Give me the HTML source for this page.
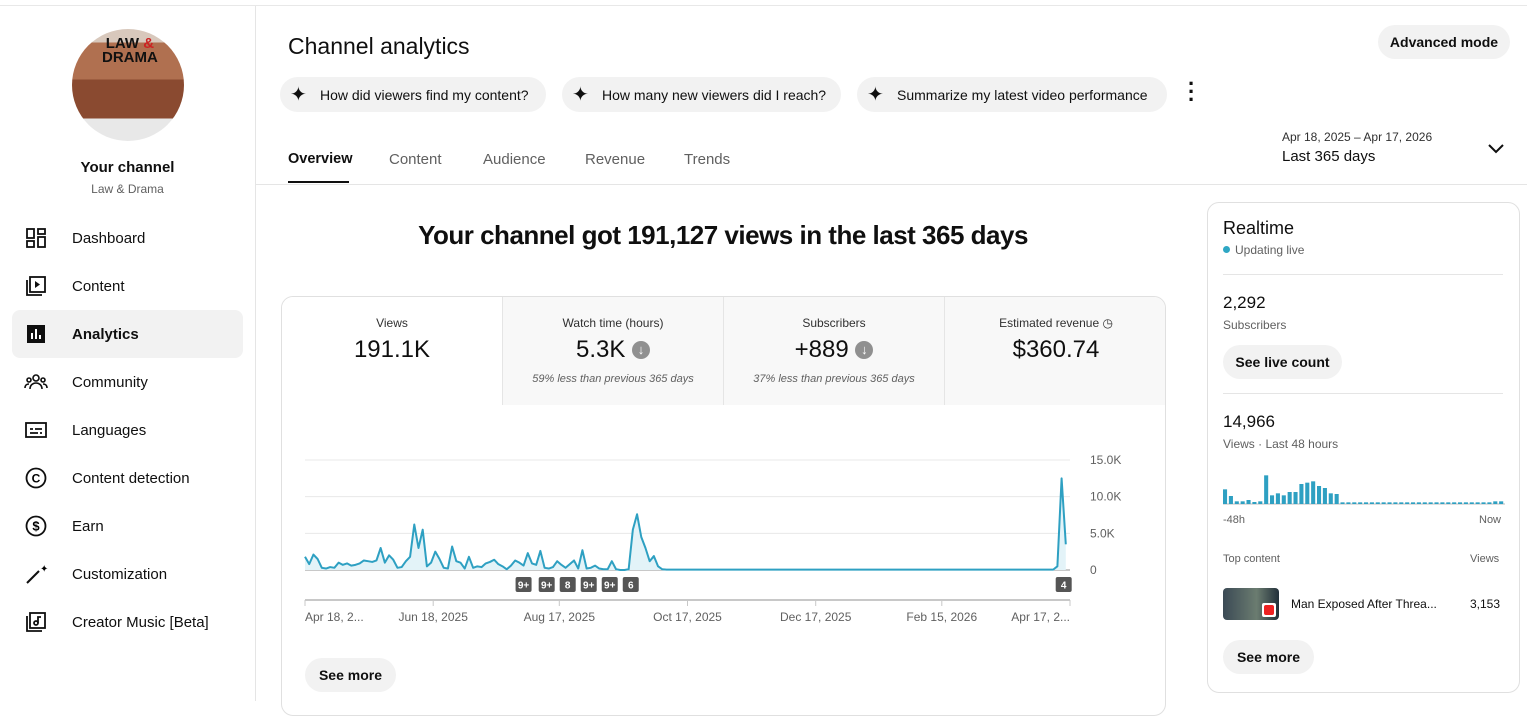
<!DOCTYPE html>
<html><head><meta charset="utf-8"><style>
*{box-sizing:border-box;margin:0;padding:0}
body{width:1527px;height:701px;overflow:hidden;background:#fff;font-family:"Liberation Sans",sans-serif;color:#0f0f0f;position:relative}
.abs{position:absolute}
.nav{position:absolute;left:12px;width:231px;height:48px;border-radius:8px;display:flex;align-items:center;font-size:15px}
.nav svg{position:absolute;left:12px}
.nav span{position:absolute;left:60px}
.chip{position:absolute;top:77px;height:35px;border-radius:18px;background:#f2f2f2;font-size:14px;display:flex;align-items:center;padding-left:40px;padding-right:8px;white-space:nowrap;color:#0f0f0f}
.chip:before{content:"✦";position:absolute;left:10px;font-size:20px;top:5px}
.tab{position:absolute;top:151px;font-size:15px;color:#606060}
.met{position:absolute;top:0;height:108px;text-align:center;background:#f8f8f8;border-right:1px solid #e5e5e5}
.met .t{font-size:12px;color:#303030;margin-top:19px}
.met .v{font-size:24px;margin-top:6px}
.met .s{font-size:11px;font-style:italic;color:#606060;margin-top:9px}
.btn{position:absolute;height:34px;border-radius:17px;background:#f2f2f2;font-size:14px;font-weight:bold;display:flex;align-items:center;justify-content:center}
</style></head><body>
<div class="abs" style="left:0;top:0;width:1527px;height:6px;border-bottom:1px solid #e8e8e8"></div>
<div class="abs" style="left:255px;top:6px;width:1px;height:695px;background:#e5e5e5"></div>
<div class="abs" style="left:72px;top:29px;width:112px;height:112px;border-radius:50%;overflow:hidden;background:linear-gradient(#d8c8bc 0 12%,#b07050 12% 45%,#8a4a30 45% 80%,#e8e8e8 80%)">
<div style="position:absolute;left:30px;top:8px;font:bold 15px/14px 'Liberation Sans';color:#111;text-align:center">LAW <span style="color:#c22">&amp;</span><br>DRAMA</div>
</div>
<div class="abs" style="left:0;width:255px;top:159px;text-align:center;font-size:15px;font-weight:bold">Your channel</div>
<div class="abs" style="left:0;width:255px;top:182px;text-align:center;font-size:12px;color:#606060">Law &amp; Drama</div>

<div class="nav" style="top:214px"><svg width="24" height="24"><g fill="none" stroke="#0f0f0f" stroke-width="1.8"><rect x="3" y="3" width="7" height="9"/><rect x="14" y="3" width="7" height="5"/><rect x="3" y="15" width="7" height="6"/><rect x="14" y="11" width="7" height="10"/></g></svg><span>Dashboard</span></div>
<div class="nav" style="top:262px"><svg width="24" height="24"><g fill="none" stroke="#0f0f0f" stroke-width="1.8"><rect x="6" y="3" width="15" height="15"/><path d="M3 6v15h15"/></g><path d="M11 7l5 3.5-5 3.5z" fill="#0f0f0f"/></svg><span>Content</span></div>
<div class="nav" style="top:310px;background:#f2f2f2;font-weight:bold"><svg width="24" height="24"><rect x="3" y="3" width="18" height="18" fill="#0f0f0f"/><g fill="#fff"><rect x="7" y="11" width="2" height="6"/><rect x="11" y="7" width="2" height="10"/><rect x="15" y="13" width="2" height="4"/></g></svg><span>Analytics</span></div>
<div class="nav" style="top:358px"><svg width="24" height="24"><g fill="none" stroke="#0f0f0f" stroke-width="1.6"><circle cx="12" cy="8" r="3"/><circle cx="5" cy="10" r="2"/><circle cx="19" cy="10" r="2"/><path d="M6 19c0-4 3-6 6-6s6 2 6 6M1 18c0-3 2-4 4-4M23 18c0-3-2-4-4-4"/></g></svg><span>Community</span></div>
<div class="nav" style="top:406px"><svg width="24" height="24"><g fill="none" stroke="#0f0f0f" stroke-width="1.8"><rect x="2" y="5" width="20" height="14"/><path d="M6 11h3M11 11h7M6 15h8M16 15h2"/></g></svg><span>Languages</span></div>
<div class="nav" style="top:454px"><svg width="24" height="24"><circle cx="12" cy="12" r="9.5" fill="none" stroke="#0f0f0f" stroke-width="1.8"/><text x="12" y="16.5" font-size="12" font-weight="bold" text-anchor="middle" font-family="Liberation Sans">C</text></svg><span>Content detection</span></div>
<div class="nav" style="top:502px"><svg width="24" height="24"><circle cx="12" cy="12" r="9.5" fill="none" stroke="#0f0f0f" stroke-width="1.8"/><text x="12" y="16.5" font-size="13" font-weight="bold" text-anchor="middle" font-family="Liberation Sans">$</text></svg><span>Earn</span></div>
<div class="nav" style="top:550px"><svg width="24" height="24"><path d="M3 21L15 9" stroke="#0f0f0f" stroke-width="2"/><text x="16" y="10" font-size="10" font-family="DejaVu Sans">✦</text></svg><span>Customization</span></div>
<div class="nav" style="top:598px"><svg width="24" height="24"><g fill="none" stroke="#0f0f0f" stroke-width="1.8"><rect x="6" y="3" width="15" height="15"/><path d="M3 6v15h15"/><circle cx="12" cy="13" r="2"/><path d="M14 13V7h3"/></g></svg><span>Creator Music [Beta]</span></div>

<div class="abs" style="left:288px;top:33px;font-size:23px">Channel analytics</div>
<div class="btn" style="left:1378px;top:25px;width:132px">Advanced mode</div>
<div class="chip" style="left:280px;width:266px">How did viewers find my content?</div>
<div class="chip" style="left:562px;width:279px">How many new viewers did I reach?</div>
<div class="chip" style="left:857px;width:310px">Summarize my latest video performance</div>
<div class="abs" style="left:1188px;top:80px;font-size:22px;font-weight:bold;line-height:8px">·<br>·<br>·</div>

<div class="tab" style="left:288px;color:#0f0f0f;font-weight:bold;font-size:14.5px">Overview</div>
<div class="abs" style="left:288px;top:181px;width:61px;height:2px;background:#0f0f0f"></div>
<div class="tab" style="left:389px">Content</div>
<div class="tab" style="left:483px">Audience</div>
<div class="tab" style="left:585px">Revenue</div>
<div class="tab" style="left:684px">Trends</div>
<div class="abs" style="left:1282px;top:130px;font-size:12px;color:#303030">Apr 18, 2025 – Apr 17, 2026</div>
<div class="abs" style="left:1282px;top:148px;font-size:15px">Last 365 days</div>
<svg class="abs" style="left:1487px;top:142px" width="18" height="14"><path d="M2 3l7 7 7-7" fill="none" stroke="#0f0f0f" stroke-width="2"/></svg>
<div class="abs" style="left:256px;top:184px;width:1271px;height:1px;background:#e5e5e5"></div>

<div class="abs" style="left:281px;width:884px;top:220px;text-align:center;font-size:26px;font-weight:bold;letter-spacing:-0.5px">Your channel got 191,127 views in the last 365 days</div>

<div class="abs" style="left:281px;top:296px;width:885px;height:420px;border:1px solid #e0e0e0;border-radius:12px;overflow:hidden">
<div class="met" style="left:0;width:221px;background:#fff"><div class="t">Views</div><div class="v">191.1K</div></div>
<div class="met" style="left:221px;width:221px"><div class="t">Watch time (hours)</div><div class="v">5.3K <span style="display:inline-block;width:18px;height:18px;border-radius:50%;background:#909090;color:#fff;font-size:13px;line-height:18px;vertical-align:3px">↓</span></div><div class="s">59% less than previous 365 days</div></div>
<div class="met" style="left:442px;width:221px"><div class="t">Subscribers</div><div class="v">+889 <span style="display:inline-block;width:18px;height:18px;border-radius:50%;background:#909090;color:#fff;font-size:13px;line-height:18px;vertical-align:3px">↓</span></div><div class="s">37% less than previous 365 days</div></div>
<div class="met" style="left:663px;width:222px;border-right:none"><div class="t">Estimated revenue ◷</div><div class="v">$360.74</div></div>
</div>
<svg class="abs" id="chart" style="left:281px;top:420px" width="860" height="210"></svg>
<div class="btn" style="left:305px;top:658px;width:91px">See more</div>

<div class="abs" style="left:1207px;top:202px;width:313px;height:491px;border:1px solid #e0e0e0;border-radius:12px"></div>
<div class="abs" style="left:1223px;top:218px;font-size:18px">Realtime</div>
<div class="abs" style="left:1223px;top:243px;font-size:12px;color:#606060"><span style="display:inline-block;width:7px;height:7px;border-radius:50%;background:#2ea7c4;margin-right:5px;vertical-align:1px"></span>Updating live</div>
<div class="abs" style="left:1223px;top:274px;width:280px;height:1px;background:#e5e5e5"></div>
<div class="abs" style="left:1223px;top:293px;font-size:17px">2,292</div>
<div class="abs" style="left:1223px;top:318px;font-size:12px;color:#606060">Subscribers</div>
<div class="btn" style="left:1223px;top:345px;width:119px">See live count</div>
<div class="abs" style="left:1223px;top:393px;width:280px;height:1px;background:#e5e5e5"></div>
<div class="abs" style="left:1223px;top:412px;font-size:17px">14,966</div>
<div class="abs" style="left:1223px;top:437px;font-size:12px;color:#606060">Views · Last 48 hours</div>
<svg class="abs" id="rt" style="left:1220px;top:460px" width="290" height="50"></svg>
<div class="abs" style="left:1223px;top:514px;font-size:11px;color:#606060">-48h</div>
<div class="abs" style="left:1479px;top:514px;font-size:11px;color:#606060">Now</div>
<div class="abs" style="left:1223px;top:553px;font-size:11px;color:#606060">Top content</div>
<div class="abs" style="left:1470px;top:553px;font-size:11px;color:#606060">Views</div>
<div class="abs" style="left:1223px;top:588px;width:56px;height:32px;border-radius:4px;background:linear-gradient(90deg,#3b4a55,#6b7c70 60%,#22303a)"><div style="position:absolute;right:3px;bottom:3px;width:14px;height:14px;background:#fff;border-radius:2px"><div style="margin:2px;width:10px;height:10px;background:#e22;border-radius:2px"></div></div></div>
<div class="abs" style="left:1291px;top:597px;font-size:12px">Man Exposed After Threa...</div>
<div class="abs" style="left:1470px;top:597px;font-size:12px">3,153</div>
<div class="btn" style="left:1223px;top:640px;width:91px">See more</div>

<script>
const NS="http://www.w3.org/2000/svg";
// views in K, every 2 days from Apr 18, 2025
const viewsK=[1.8,0.8,2.1,1.5,0.3,0.2,0.4,0.3,1.0,0.7,0.9,0.6,0.7,0.9,1.3,1.2,
1.1,1.3,3.0,1.0,2.0,1.4,0.3,0.4,1.2,1.8,
6.2,3.0,5.5,0.5,1.0,2.5,1.5,0.3,0.2,
3.2,1.2,1.0,0.2,1.8,0.3,0.5,0.4,0.9,1.1,1.4,0.8,0.5,0.1,0.6,1.3,
1.0,0.6,2.3,0.9,0.7,2.6,0.3,0.2,0.4,1.2,0.7,0.3,0.8,1.3,0.2,
2.7,0.2,0.3,0.6,0.2,0.1,0.1,1.2,0.1,0.0,0.0,
0.1,5.5,7.6,4.5,3.0,1.2,1.9,0.5,0.1,
0.05,0.05,0.05,0.05,0.05,0.05,0.05,0.05,0.05,0.05,0.05,0.05,0.05,0.05,0.05,0.05,0.05,0.05,0.05,0.05,
0.05,0.05,0.05,0.05,0.05,0.05,0.05,0.05,0.05,0.05,0.05,0.05,0.05,0.05,0.05,0.05,0.05,0.05,0.05,0.05,
0.05,0.05,0.05,0.05,0.05,0.05,0.05,0.05,0.05,0.05,0.05,0.05,0.05,0.05,0.05,0.05,0.05,0.05,0.05,0.05,
0.05,0.05,0.05,0.05,0.05,0.05,0.05,0.05,0.05,0.05,0.05,0.05,0.05,0.05,0.05,0.05,0.05,0.05,0.05,0.05,
0.05,0.05,0.05,0.05,0.05,0.05,0.05,0.05,0.05,0.05,0.05,0.05,0.05,0.5,12.5,3.5];
const yTicks=[0,5,10,15];
const yTickLabels=["0","5.0K","10.0K","15.0K"];
const xTickDays=[0,61,121,182,243,303,364];
const xTickLabels=["Apr 18, 2...","Jun 18, 2025","Aug 17, 2025","Oct 17, 2025","Dec 17, 2025","Feb 15, 2026","Apr 17, 2..."];
const badgeDays=[104,115,125,135,145,155,361];
const badgeLabels=["9+","9+","8","9+","9+","6","4"];
const rtViews=[44,24,8,8,12,6,8,86,26,32,26,36,36,60,64,68,54,48,32,30,5,5,5,5,5,5,5,5,5,5,5,5,5,5,5,5,5,5,5,5,5,5,5,5,5,5,8,8];

const c=document.getElementById('chart');
const X0=24,X1=789,Y0=150,YK=110/15,DAYS=364;
const xs=d=>X0+(d/DAYS)*(X1-X0);
const ys=v=>Y0-v*YK;
function el(t,a,p){const e=document.createElementNS(NS,t);for(const k in a)e.setAttribute(k,a[k]);(p||c).appendChild(e);return e;}
yTicks.forEach((t,i)=>{
 const g=el('line',{x1:X0,x2:X1,y1:ys(t),y2:ys(t),stroke:i==0?'#909090':'#e8e8e8','stroke-width':1});
 
 
 const l=el('text',{x:X1+20,y:ys(t)+4,'font-size':12,fill:'#606060','font-family':'Liberation Sans'});
 l.textContent=yTickLabels[i];
 
 
});
let pts=viewsK.map((v,i)=>[xs(i*2),ys(v)]);
const area=el('path',{d:'M'+xs(0)+','+Y0+' L'+pts.map(p=>p.join(',')).join(' L')+' L'+pts[pts.length-1][0]+','+Y0+'Z',fill:'#e3f3f8'});


const line=el('path',{d:'M'+pts.map(p=>p.join(',')).join(' L'),fill:'none',stroke:'#2ea0c2','stroke-width':2,'stroke-linejoin':'round'});


const ax=el('line',{x1:X0,x2:X1,y1:180,y2:180,stroke:'#c8c8c8','stroke-width':2});


xTickDays.forEach((d,i)=>{
 const tk=el('line',{x1:xs(d),x2:xs(d),y1:180,y2:186,stroke:'#c8c8c8'});
 
 
 const anchor=i==0?'start':(i==xTickDays.length-1?'end':'middle');
 const t=el('text',{x:xs(d),y:201,'font-size':12,fill:'#606060','text-anchor':anchor,'font-family':'Liberation Sans'});
 t.textContent=xTickLabels[i];
 
 
});
badgeDays.forEach((d,i)=>{
 const g=el('g',{});
 
 
 el('rect',{x:xs(d)-8,y:157,width:16,height:15,rx:2,fill:'#555'},g);
 const t=el('text',{x:xs(d),y:168.5,'font-size':10,'font-weight':'bold',fill:'#fff','text-anchor':'middle','font-family':'Liberation Sans'},g);
 t.textContent=badgeLabels[i];
});
const r=document.getElementById('rt');
const RB=44,RS=1/3,RX0=3,RW=(282)/rtViews.length;
el('line',{x1:RX0,x2:RX0+282,y1:RB,y2:RB,stroke:'#bbb'},r);
rtViews.forEach((v,i)=>{
 const b=el('rect',{x:RX0+i*RW,y:RB-v*RS,width:RW-1.8,height:v*RS,fill:'#2ea0c2'},r);
 
 
});
</script>
</body></html>
